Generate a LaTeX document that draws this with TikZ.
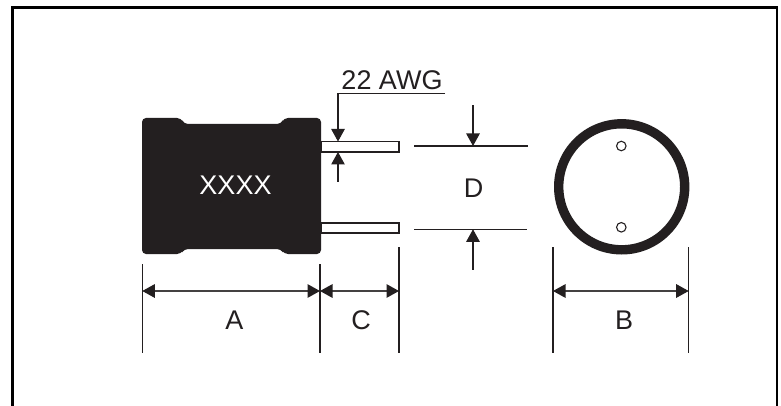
\documentclass[tikz,border=0pt]{standalone}
\usepackage{fontspec}
\setmainfont{Liberation Sans}
\usetikzlibrary{arrows.meta}
\definecolor{ink}{HTML}{231F20}
\tikzset{
  thin line/.style={draw=ink,line width=1.1},
  dimline/.style={draw=ink!85,line width=1.3,{Triangle[length=12.5,width=13.5,color=ink]}-{Triangle[length=12.5,width=13.5,color=ink]}},
  leader/.style={draw=ink,line width=1.1,-{Triangle[length=12.5,width=13.5]}},
  label/.style={text=ink,font=\fontsize{27}{29}\selectfont,inner sep=0},
  lead/.style={draw=ink,line width=1.1,fill=white},
}
\begin{document}
\begin{tikzpicture}[x=1pt,y=-1pt]
\useasboundingbox (0,0) rectangle (781,406);
\fill[white] (0,0) rectangle (781,406);
% frame
\draw[black,line width=2.8] (12.4,406) -- (12.4,7.4) -- (777,7.4) -- (777,406);
% body
\fill[ink,rounded corners=4] (142,130) -- (142,118) -- (181,118) -- (184,124) -- (281,124) -- (284,118) -- (321,118) -- (321,254) -- (284,254) -- (281,249) -- (184,249) -- (181,254) -- (142,254) -- cycle;
\node[label,text=white] (xxxx) at (235.5,185.5) {XXXX};
% leads
\draw[lead] (321,141.5) rectangle (399,152);
\draw[lead] (321,223) rectangle (399,233);
% wire gauge
\node[label] (awg) at (392,80.5) {22 AWG};
\coordinate (awgEnd) at (445,93.5);
\coordinate (awgCorner) at (338,93.5);
\coordinate (wireTop) at (338,141.5);
\coordinate (wireBot) at (338,152);
\coordinate (wireTail) at (338,182);
\draw[leader] (awgEnd) -- (awgCorner) -- (wireTop);
\draw[leader] (wireTail) -- (wireBot);
% D
\coordinate (dTopL) at (414,146); \coordinate (dTopR) at (528,146);
\coordinate (dBotL) at (414,229.3); \coordinate (dBotR) at (527,229.3);
\draw[thin line] (dTopL) -- (dTopR);
\draw[thin line] (dBotL) -- (dBotR);
\coordinate (dTail1) at (473,105.5); \coordinate (dTip1) at (473,146);
\coordinate (dTail2) at (473,269.5); \coordinate (dTip2) at (473,229.3);
\draw[leader] (dTail1) -- (dTip1);
\draw[leader] (dTail2) -- (dTip2);
\node[label] (d) at (473.5,188) {D};
% end view
\node[circle,draw=ink,line width=9.4,minimum size=126,inner sep=0,outer sep=0] (ring) at (621.7,186.8) {};
\node[circle,draw=ink,line width=1.1,fill=white,minimum size=9.5,inner sep=0] (pin1) at (621.3,146) {};
\node[circle,draw=ink,line width=1.1,fill=white,minimum size=9.5,inner sep=0] (pin2) at (621.3,227.3) {};
% extension lines
\coordinate (e1t) at (142.3,264); \coordinate (e1b) at (142.3,353);
\coordinate (e2t) at (320,264); \coordinate (e2b) at (320,353);
\coordinate (e3t) at (399,247); \coordinate (e3b) at (399,353);
\coordinate (e4t) at (553,247); \coordinate (e4b) at (553,353);
\coordinate (e5t) at (688.7,247); \coordinate (e5b) at (688.7,353);
\foreach \n in {e1,e2,e3,e4,e5}{\draw[thin line] (\n t) -- (\n b);}
% dimensions
\coordinate (a1) at (142.3,291); \coordinate (a2) at (320,291); \coordinate (a3) at (399,291);
\coordinate (b1) at (553,291); \coordinate (b2) at (688.7,291);
\draw[dimline] (a1) -- (a2);
\draw[dimline] (a2) -- (a3);
\draw[dimline] (b1) -- (b2);
\node[label] (A) at (234.5,320) {A};
\node[label] (C) at (361,320) {C};
\node[label] (B) at (624,320) {B};
\end{tikzpicture}
\end{document}
